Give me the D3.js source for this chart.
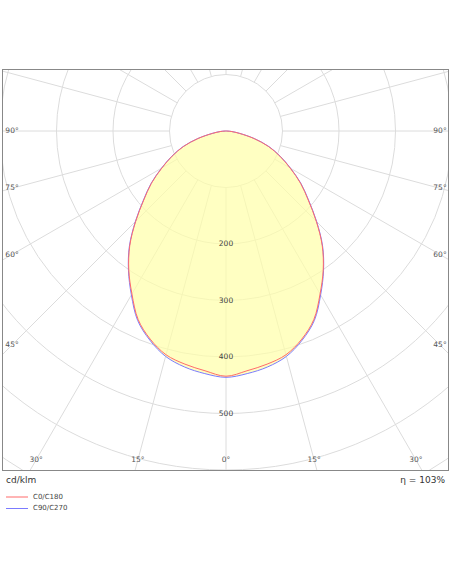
<!DOCTYPE html>
<html><head><meta charset="utf-8">
<script src="https://cdn.jsdelivr.net/npm/d3@7"></script>
<style>body{margin:0;background:#fff}svg{display:block}text{font-family:"DejaVu Sans",Verdana,sans-serif}</style>
</head><body>
<script>
const angles = [0,5,10,15,20,25,30,35,40,45,50,55,60,65,70,75,80,85,90];
const c0c180 = [434,426,419,410,392,368,333,300,265,226,190,161,131,105,80,51,24,9,0];
const c90c270 = [436,431,424,413,394,370,335,301,266,227,191,162,132,106,81,52,25,10,0];
const ringValues = [100,200,300,400,500,600,700,800,900,1000,1100,1200];
const ringLabels = [200,300,400,500];
const angleLabels = [0,15,30,45,60,75,90];
const seriesNames = ["C0/C180","C90/C270"];
const seriesColors = ["#ff6b6b","#7b7bff"];
const efficiencyText = "η = 103%";
const unitText = "cd/klm";

const W=452,H=584;
const frame={x:2.5,y:69.5,w:446,h:401};
const cx=226, cy=131;
const r=d3.scaleLinear().domain([0,100]).range([0,56.5]);
const svg=d3.select("body").append("svg").attr("width",W).attr("height",H);
svg.append("defs").append("clipPath").attr("id","clip").append("rect")
  .attr("x",frame.x).attr("y",frame.y).attr("width",frame.w).attr("height",frame.h);
const g=svg.append("g").attr("clip-path","url(#clip)");
const c=g.append("g").attr("transform",`translate(${cx},${cy})`);

// grid circles
c.selectAll("circle.ring").data(ringValues).join("circle").attr("class","ring")
  .attr("r",d=>r(d)).attr("fill","none").attr("stroke","#dcdcdc").attr("stroke-width",1);
// radial lines
const spokes=d3.range(0,360,15);
c.selectAll("line.spoke").data(spokes).join("line")
  .attr("x1",d=>r(100)*Math.sin(d*Math.PI/180)).attr("y1",d=>r(100)*Math.cos(d*Math.PI/180))
  .attr("x2",d=>r(1400)*Math.sin(d*Math.PI/180)).attr("y2",d=>r(1400)*Math.cos(d*Math.PI/180))
  .attr("stroke","#dcdcdc").attr("stroke-width",1);

function pts(vals){
  const left=angles.map((a,i)=>[Math.PI+a*Math.PI/180, r(vals[i])]).reverse();
  const right=angles.slice(1).map((a,i)=>[Math.PI-a*Math.PI/180, r(vals[i+1])]);
  return left.concat(right);
}
const line=d3.lineRadial().angle(d=>d[0]).radius(d=>d[1]).curve(d3.curveCatmullRom);
c.append("path").attr("d",line(pts(c90c270))+"Z").attr("fill","#ffffa8").attr("fill-opacity",0.7).attr("stroke","none");
c.append("path").attr("d",line(pts(c90c270))).attr("fill","none").attr("stroke",seriesColors[1]).attr("stroke-width",1);
c.append("path").attr("d",line(pts(c0c180))).attr("fill","none").attr("stroke",seriesColors[0]).attr("stroke-width",1);

// ring labels
c.selectAll("text.rl").data(ringLabels).join("text").attr("x",0).attr("y",d=>r(d))
  .attr("text-anchor","middle").attr("dominant-baseline","middle").attr("font-size",7.5).attr("fill","#444").text(d=>d);

// angle labels
const sideX=214, botY=329;
angleLabels.forEach(a=>{
  const s=Math.sin(a*Math.PI/180), co=Math.cos(a*Math.PI/180);
  const t=Math.min(s>1e-9?sideX/s:1e9, botY/co);
  [-1,1].forEach(side=>{
    if(a===0&&side===1) return;
    c.append("text").attr("x",side*t*s).attr("y",t*co).attr("text-anchor","middle")
      .attr("dominant-baseline","middle").attr("font-size",7.5).attr("fill","#555").text(a+"°");
  });
});

// frame
svg.append("rect").attr("x",frame.x).attr("y",frame.y).attr("width",frame.w).attr("height",frame.h)
  .attr("fill","none").attr("stroke","#888").attr("stroke-width",1);

svg.append("text").attr("x",6).attr("y",483).attr("font-size",9).attr("fill","#333").text(unitText);
svg.append("text").attr("x",445).attr("y",483).attr("text-anchor","end").attr("font-size",9).attr("fill","#333").text(efficiencyText);

seriesNames.forEach((n,i)=>{
  const y=497+i*11.5;
  svg.append("line").attr("x1",6).attr("x2",28).attr("y1",y).attr("y2",y).attr("stroke",seriesColors[i]).attr("stroke-width",1);
  svg.append("text").attr("x",33).attr("y",y).attr("dominant-baseline","middle").attr("font-size",7).attr("fill","#444").text(n);
});
</script>
</body></html>
